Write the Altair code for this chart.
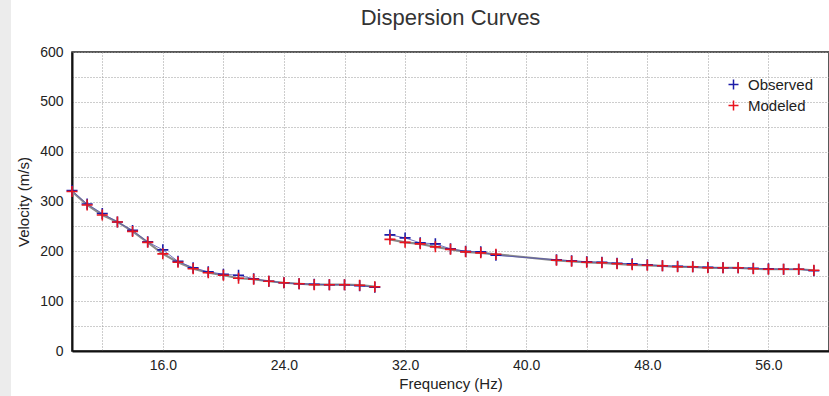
import altair as alt
import pandas as pd

# ---- data ----
freq_low = [10, 11, 12, 13, 14, 15, 16, 17, 18, 19, 20, 21, 22, 23, 24, 25, 26, 27, 28, 29, 30]
obs_low = [322, 295, 276, 259, 242, 219, 203, 180, 167, 159, 154, 152, 145, 140, 137, 135, 134, 133, 133, 131, 128]
mod_low = [320, 293, 273, 259, 240, 218, 195, 178, 165, 157, 152, 146, 144, 140, 137, 135, 133, 133, 133, 132, 129]

freq_high = [31, 32, 33, 34, 35, 36, 37, 38, 42, 43, 44, 45, 46, 47, 48, 49, 50, 51, 52, 53, 54, 55, 56, 57, 58, 59]
obs_high = [233, 227, 217, 215, 205, 200, 199, 192, 183, 181, 179, 178, 176, 175, 173, 171, 170, 169, 168, 167, 167, 166, 165, 164, 164, 161]
mod_high = [224, 218, 215, 209, 204, 199, 197, 194, 182, 180, 178, 177, 175, 173, 172, 171, 169, 169, 167, 167, 167, 165, 164, 164, 164, 162]

series_names = ["Observed", "Modeled"]
series_colors = ["#1c1ca8", "#e8141e"]

x_ticks = [12, 16, 20, 24, 28, 32, 36, 40, 44, 48, 52, 56]
y_ticks = [0, 50, 100, 150, 200, 250, 300, 350, 400, 450, 500, 550, 600]

rows = []
for seg, fr, ob in [(1, freq_low, obs_low), (2, freq_high, obs_high)]:
    for f, v in zip(fr, ob):
        rows.append({"freq": f, "vel": v, "series": "Observed", "seg": seg, "ord": 0})
for seg, fr, mo in [(1, freq_low, mod_low), (2, freq_high, mod_high)]:
    for f, v in zip(fr, mo):
        rows.append({"freq": f, "vel": v, "series": "Modeled", "seg": seg, "ord": 1})
df = pd.DataFrame(rows)

FONT = "Liberation Sans"
CROSS = "M-1,0H1M0,-1V1"

x_enc = alt.X("freq:Q", title="Frequency (Hz)",
              scale=alt.Scale(domain=[10, 60], nice=False, zero=False),
              axis=alt.Axis(values=x_ticks,
                            labelExpr="datum.value % 8 == 0 ? format(datum.value, '.1f') : ''",
                            ticks=False, labelPadding=7, titlePadding=4))
y_enc = alt.Y("vel:Q", title="Velocity (m/s)",
              scale=alt.Scale(domain=[0, 600], nice=False),
              axis=alt.Axis(values=y_ticks,
                            labelExpr="datum.value % 100 == 0 ? datum.value : ''",
                            ticks=False, labelPadding=9, titlePadding=8))

base = alt.Chart(df)

line_mod = base.transform_filter(alt.datum.series == "Modeled").mark_line(
    strokeWidth=2.2, color="#8a8a8a").encode(x=x_enc, y=y_enc, detail="seg:N", order="freq:Q")
line_obs = base.transform_filter(alt.datum.series == "Observed").mark_line(
    strokeWidth=1, color="#5050b0", opacity=0.8).encode(x=x_enc, y=y_enc, detail="seg:N", order="freq:Q")

points = base.mark_point(shape=CROSS, filled=False, size=121, strokeWidth=1.6, opacity=1).encode(
    x=x_enc, y=y_enc,
    color=alt.Color("series:N", title=None,
                    scale=alt.Scale(domain=series_names, range=series_colors),
                    legend=alt.Legend(orient="none", legendX=654, legendY=25,
                                      symbolType=CROSS, symbolSize=100, symbolStrokeWidth=1.5,
                                      labelFont=FONT, labelFontSize=15, labelColor="#222",
                                      rowPadding=4, labelOffset=7)),
    order=alt.Order("ord:Q"),
)

strip = alt.Chart(alt.Data(values=[{"a": 1}])).mark_rect(color="#ececec").encode(
    x=alt.value(-72), x2=alt.value(-61), y=alt.value(-52), y2=alt.value(344))

chart = alt.layer(strip, line_mod, line_obs, points).properties(
    width=757, height=299,
    background="white",
    autosize=alt.AutoSizeParams(type="none"),
    padding={"left": 72, "top": 52, "right": 0, "bottom": 45},
    title=alt.TitleParams("Dispersion Curves", font=FONT, fontSize=22, fontWeight="normal",
                          color="#333", anchor="middle", offset=-30, frame="group"),
).configure_view(stroke="#222", strokeWidth=1.5).configure_axis(
    labelFont=FONT, labelFontSize=14, labelColor="#222",
    titleFont=FONT, titleFontSize=15, titleColor="#222", titleFontWeight="normal",
    domainColor="#111", domainWidth=2,
    gridColor="#9a9a9a", gridDash=[1, 2], gridWidth=1,
)

chart.save("out.html", embed_options={"renderer": "svg", "actions": False})
